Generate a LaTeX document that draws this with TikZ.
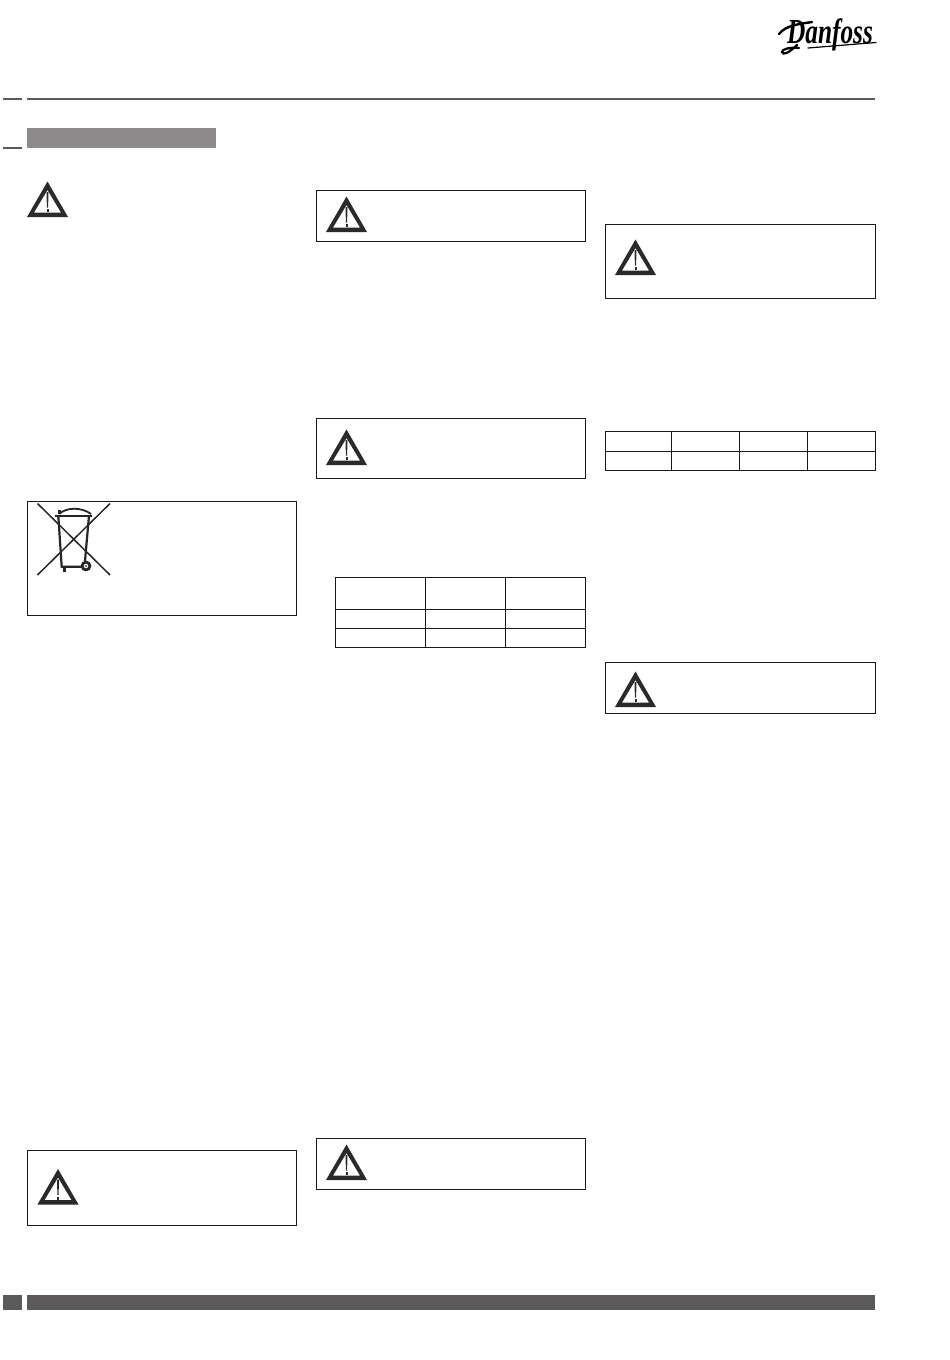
\documentclass[tikz,border=0pt]{standalone}
\usepackage{fontspec}
\setmainfont{Liberation Serif}
\definecolor{bardark}{HTML}{5B595A}
\definecolor{bargray}{HTML}{8C8A8B}
\definecolor{signdark}{HTML}{2B2A2B}
\tikzset{
	noticebox/.style={draw=black!90, line width=1pt},
	tablegrid/.style={draw=black!90, line width=1pt},
	binline/.style={draw=black!85, line width=2.2pt},
	logoline/.style={draw=black, line cap=round},
	warnsign/.pic={
		\fill[signdark, even odd rule] (-20.5,0) -- (0,-35.5) -- (20.5,0) -- cycle
			(-13.5,-4.5) -- (13.5,-4.5) -- (0,-27) -- cycle;
		\fill[signdark] (-1,-25) -- (1,-25) -- (0.6,-9.5) -- (-0.6,-9.5) -- cycle;
		\fill[signdark] (-1,-8) rectangle (1,-5);
	}
}
\begin{document}
\begin{tikzpicture}[x=1pt,y=-1pt]
	\useasboundingbox (0,0) rectangle (950,1360);

	% header
	\fill[bardark] (27,98) rectangle (875,100);
	\fill[bardark] (3,98) rectangle (22,100);
	\fill[bardark] (3,147) rectangle (22,149);
	\fill[bargray] (27,128) rectangle (216,148);

	% logo
	\node[inner sep=0pt, xscale=1.15, yscale=1.6] (logo) at (830,35) {\fontsize{22}{22}\selectfont\bfseries\itshape Danfoss};
	\draw[logoline, line width=2.4pt] (779,34) .. controls (786,25) and (800,24) .. (812,22);
	\draw[logoline, line width=2.2pt] (797,45) .. controls (790,52) and (783,56) .. (782,52) .. controls (782,49) and (790,47) .. (799,48);
	\draw[logoline, line width=1.2pt] (808,48) -- (876,42.5);

	% first column
	\pic at (47.5,217) {warnsign};

	\draw[noticebox] (27,501) rectangle (296.5,615);
	\draw[black!85, line width=1.5pt] (37.5,503.5) -- (110,575);
	\draw[black!85, line width=1.5pt] (110,503.5) -- (37.5,575);
	\draw[binline] (55,515.7) -- (91.7,515.7);
	\draw[binline, line width=1.8pt] (59.3,514) .. controls (66,507) and (82,507) .. (91,514);
	\draw[binline] (58.3,515.7) -- (61.7,566.7) -- (81,566.7);
	\draw[binline] (89,515.7) -- (85,561);
	\draw[binline, line width=2.8pt] (86,566) circle (3.9);
	\fill[black!85] (86,566) circle (1);
	\fill[black!85] (62.7,567) rectangle (66,571.7);
	\fill[black!85] (58,509.5) rectangle (60.5,513.5);

	\draw[noticebox] (27,1150) rectangle (296.5,1225);
	\pic at (58,1204.5) {warnsign};

	% second column
	\draw[noticebox] (316,190) rectangle (585,241);
	\pic at (346.5,232) {warnsign};

	\draw[noticebox] (316,418) rectangle (585,478);
	\pic at (346.5,465) {warnsign};

	\draw[tablegrid] (335.5,577.5) rectangle (585.5,647.5);
	\draw[tablegrid] (335.5,609.5) -- (585.5,609.5);
	\draw[tablegrid] (335.5,628.5) -- (585.5,628.5);
	\draw[tablegrid] (425.5,577.5) -- (425.5,647.5);
	\draw[tablegrid] (505.5,577.5) -- (505.5,647.5);

	\draw[noticebox] (316,1138) rectangle (585,1189);
	\pic at (346.5,1180) {warnsign};

	% third column
	\draw[noticebox] (605,224) rectangle (875,298);
	\pic at (635.5,275) {warnsign};

	\draw[tablegrid] (605.5,431.5) rectangle (875.5,470.5);
	\draw[tablegrid] (605.5,451) -- (875.5,451);
	\draw[tablegrid] (671.5,431.5) -- (671.5,470.5);
	\draw[tablegrid] (739.5,431.5) -- (739.5,470.5);
	\draw[tablegrid] (807.5,431.5) -- (807.5,470.5);

	\draw[noticebox] (605,662) rectangle (875,713);
	\pic at (635.5,707) {warnsign};

	% footer
	\fill[bardark] (3,1295) rectangle (22,1310);
	\fill[bardark] (27,1295) rectangle (875,1310);
\end{tikzpicture}
\end{document}
